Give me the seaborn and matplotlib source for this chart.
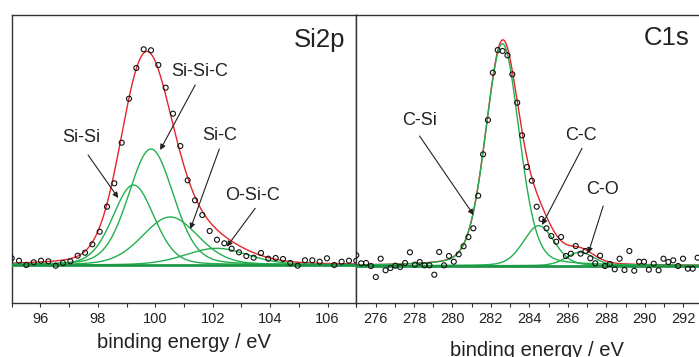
import matplotlib
matplotlib.use("Agg")
import matplotlib.pyplot as plt
import numpy as np
import seaborn as sns

# measured XPS spectra (arbitrary intensity units, baseline = 0)
si_start, si_end = 95.0, 107.0
si_counts = [6.7, 4.3, 0, 2.7, 4.3, 3.7, -0.7, 2, 3.7, 9.3, 12.3, 20.7, 33.3, 58.3,
             81.7, 122.3, 166.3, 197, 215.7, 214.7, 200, 177.3, 151.3, 119, 84.7,
             64.7, 50, 34, 25.3, 21.7, 16.3, 12.7, 9, 7.3, 12, 6.3, 7, 6, 2, -0.7,
             4.7, 4.7, 3.3, 6.7, 0, 3.3, 4.3, 4.3]

c_start, c_end = 275.0, 292.75
c_counts = [10.4, 2.4, 2.7, -0.3, -11.3, 7, -4.6, -2.3, 0, -1.3, 2.7, 13.4, 1, 3.7,
            0.4, 0.4, -9, 13.7, 0.4, 9.7, 4, 11.4, 19.4, 28.7, 37.4, 70, 111.4,
            145.7, 193, 215.7, 214.7, 210.4, 191.4, 163, 130.4, 98.7, 85, 59, 46.7,
            37.4, 29.7, 24, 28.7, 9.7, 12, 19.7, 12, 14.7, 7.4, 2.4, 10, -0.3, 1.7,
            -3.6, 7, -4.3, 14.7, -5, 4, 4, -4, 2, -4.6, 7, 3.7, 5.4, -0.3, 7, -3, -3, 8]

# fitted components: centre (eV), height, FWHM (eV)
si_names = ["Si-Si", "Si-Si-C", "Si-C", "O-Si-C"]
si_centers = [99.24, 99.85, 100.52, 102.14]
si_heights = [80, 116, 48, 16.7]
si_fwhm = [1.7, 1.85, 2.3, 2.6]

c_names = ["C-Si", "C-C", "C-O"]
c_centers = [282.60, 284.49, 286.63]
c_heights = [222, 40, 13.4]
c_fwhm = [2.05, 1.9, 1.7]

RED = "#e3262b"
GREEN = "#22b04e"
BASE = "#1e9646"
INK = "#222222"

sns.set_style("ticks")
plt.rcParams["font.family"] = ["Liberation Sans", "DejaVu Sans"]


def pvoigt(x, c, h, w, eta=0.2):
    g = np.exp(-4 * np.log(2) * (x - c) ** 2 / w ** 2)
    l = 1 / (1 + 4 * (x - c) ** 2 / w ** 2)
    return h * ((1 - eta) * g + eta * l)


def panel(ax, e, counts, centers, heights, fwhm, xlim, ylim):
    xs = np.linspace(xlim[0], xlim[1], 800)
    comps = [pvoigt(xs, c, h, w) for c, h, w in zip(centers, heights, fwhm)]
    sns.lineplot(x=xs, y=np.sum(comps, axis=0), ax=ax, color=RED, lw=1.0)
    for comp in comps:
        sns.lineplot(x=xs, y=comp, ax=ax, color=GREEN, lw=1.0)
    ax.axhline(0, color=BASE, lw=2.0, zorder=3)
    sns.scatterplot(x=e, y=counts, ax=ax, marker="o", s=13, facecolor="none",
                    edgecolor="#111111", linewidth=0.8, zorder=4)
    ax.set_xlim(*xlim)
    ax.set_ylim(*ylim)
    ax.set_yticks([])
    ax.set_ylabel("")
    for s in ax.spines.values():
        s.set_color("#333333")
        s.set_linewidth(1.0)
    ax.xaxis.set_major_locator(plt.MultipleLocator(2))
    ax.xaxis.set_minor_locator(plt.MultipleLocator(1))
    ax.tick_params(axis="x", which="both", direction="out", length=3, width=0.8,
                   color="#333333", labelsize=10.5, pad=3, labelcolor=INK)


def arrow(ax, text, txy, start, tip):
    ax.text(*txy, text, ha="center", va="center", fontsize=13, color=INK)
    ax.annotate("", xy=tip, xytext=start,
                arrowprops=dict(arrowstyle="-|>", color=INK, lw=0.8,
                                mutation_scale=8, shrinkA=0, shrinkB=0))


fig = plt.figure(figsize=(6.99, 3.57), dpi=100)
W, H = 699.0, 357.0
ax1 = fig.add_axes([11.7 / W, (H - 303.3) / H, 344.6 / W, 288.3 / H])
ax2 = fig.add_axes([356.3 / W, (H - 303.3) / H, 361.5 / W, 288.3 / H])

si_e = np.linspace(si_start, si_end, len(si_counts))
c_e = np.linspace(c_start, c_end, len(c_counts))

panel(ax1, si_e, si_counts, si_centers, si_heights, si_fwhm, (95, 107), (-38.3, 250))
panel(ax2, c_e, c_counts, c_centers, c_heights, c_fwhm, (275, 293.8), (-37.6, 250.7))

arrow(ax1, "Si-Si", (97.41, 128), (97.66, 110), (98.71, 67))
arrow(ax1, "Si-Si-C", (101.56, 193), (101.39, 180), (100.17, 115))
arrow(ax1, "Si-C", (102.23, 130), (102.23, 116), (101.22, 36))
arrow(ax1, "O-Si-C", (103.38, 70), (103.48, 56.7), (102.49, 18.3))

arrow(ax2, "C-Si", (278.29, 145.7), (278.29, 129.7), (281.10, 50.7))
arrow(ax2, "C-C", (286.69, 130.7), (286.74, 117.4), (284.66, 40.7))
arrow(ax2, "C-O", (287.80, 76.7), (287.84, 59.7), (287.06, 12.4))

ax1.text(0.967, 0.89, "Si2p", transform=ax1.transAxes, ha="right", va="baseline",
         fontsize=18.5, color=INK)
ax2.text(0.923, 0.896, "C1s", transform=ax2.transAxes, ha="right", va="baseline",
         fontsize=18.5, color=INK)

for ax, ly in [(ax1, -0.1377), (ax2, -0.1644)]:
    ax.set_xlabel("binding energy / eV", fontsize=14.5, color=INK)
    ax.xaxis.label.set_va("center")
    ax.xaxis.set_label_coords(0.5, ly)

fig.savefig("out.png", dpi=100)
